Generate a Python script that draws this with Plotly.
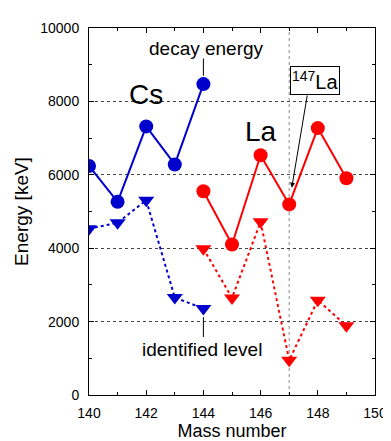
import plotly.graph_objects as go

cs_mass = [140, 141, 142, 143, 144]
cs_decay = [6240, 5263, 7319, 6282, 8472]
cs_level = [4531, 4692, 5308, 2654, 2359]

la_mass = [144, 145, 146, 147, 148, 149]
la_decay = [5550, 4102, 6533, 5193, 7273, 5906]
la_level = [3986, 2646, 4718, 946, 2582, 1885]

blue = "#0000CC"
red = "#FF0000"
font = "Liberation Sans, Arial, sans-serif"

fig = go.Figure()
fig.add_trace(go.Scatter(x=cs_mass, y=cs_level, mode="lines+markers",
                         line=dict(color=blue, width=2, dash="dot"),
                         marker=dict(symbol="triangle-down", size=14, color=blue)))
fig.add_trace(go.Scatter(x=cs_mass, y=cs_decay, mode="lines+markers",
                         line=dict(color=blue, width=2),
                         marker=dict(symbol="circle", size=14, color=blue)))
fig.add_trace(go.Scatter(x=la_mass, y=la_level, mode="lines+markers",
                         line=dict(color=red, width=2, dash="dot"),
                         marker=dict(symbol="triangle-down", size=14, color=red)))
fig.add_trace(go.Scatter(x=la_mass, y=la_decay, mode="lines+markers",
                         line=dict(color=red, width=2),
                         marker=dict(symbol="circle", size=14, color=red)))

# vertical dotted marker line at 147
fig.add_shape(type="line", x0=147, x1=147, y0=0, y1=10000, xref="x", yref="y",
              line=dict(color="#888888", width=1, dash="dot"), layer="below")
# leader lines
fig.add_shape(type="line", x0=144, x1=144, y0=8700, y1=9170, xref="x", yref="y",
              line=dict(color="black", width=1))
fig.add_shape(type="line", x0=144, x1=144, y0=1580, y1=2120, xref="x", yref="y",
              line=dict(color="black", width=1))

fig.add_annotation(x=144.1, y=9437, text="decay energy", showarrow=False,
                   font=dict(size=19, color="black", family=font), xref="x", yref="y")
fig.add_annotation(x=141.99, y=8190, text="Cs", showarrow=False,
                   font=dict(size=28, color="black", family=font), xref="x", yref="y")
fig.add_annotation(x=146.01, y=7180, text="La", showarrow=False,
                   font=dict(size=28, color="black", family=font), xref="x", yref="y")
fig.add_annotation(x=143.94, y=1233, text="identified level", showarrow=False,
                   font=dict(size=19, color="black", family=font), xref="x", yref="y")
fig.add_annotation(x=147.09, y=5650, ax=147.64, ay=8204, axref="x", ayref="y",
                   text="", showarrow=True, arrowhead=2, arrowsize=1, arrowwidth=1,
                   arrowcolor="black", xref="x", yref="y")
fig.add_annotation(x=147.9, y=8566, text="<sup>147</sup>La", showarrow=False,
                   font=dict(size=20, color="black", family=font), xref="x", yref="y",
                   bordercolor="black", borderwidth=1, bgcolor="white", borderpad=1)

fig.update_layout(
    width=391, height=441,
    margin=dict(l=81, r=14, t=14, b=54),
    paper_bgcolor="white", plot_bgcolor="white",
    showlegend=False,
    font=dict(family=font, color="black"),
)
fig.update_xaxes(range=[140, 150], dtick=2, tick0=140, ticks="inside", ticklen=5,
                 tickcolor="black", showline=True, linecolor="black", linewidth=1,
                 mirror="ticks", showgrid=False, zeroline=False,
                 tickfont=dict(size=14, color="black"), ticklabelstandoff=5,
                 title=dict(text="Mass number", font=dict(size=18, color="black"), standoff=0),
                 minor=dict(dtick=1, ticks="inside", ticklen=3, tickcolor="black"))
fig.update_yaxes(range=[0, 10000], dtick=2000, ticks="inside", ticklen=5,
                 tickformat="d",
                 tickcolor="black", showline=True, linecolor="black", linewidth=1,
                 mirror="ticks", showgrid=True, gridcolor="#444444", griddash="dot",
                 gridwidth=1, zeroline=False,
                 tickfont=dict(size=14, color="black"), ticklabelstandoff=6,
                 title=dict(text="Energy [keV]", font=dict(size=19, color="black"), standoff=6),
                 minor=dict(dtick=1000, ticks="inside", ticklen=3, tickcolor="black"))

fig.write_html("out.html")
